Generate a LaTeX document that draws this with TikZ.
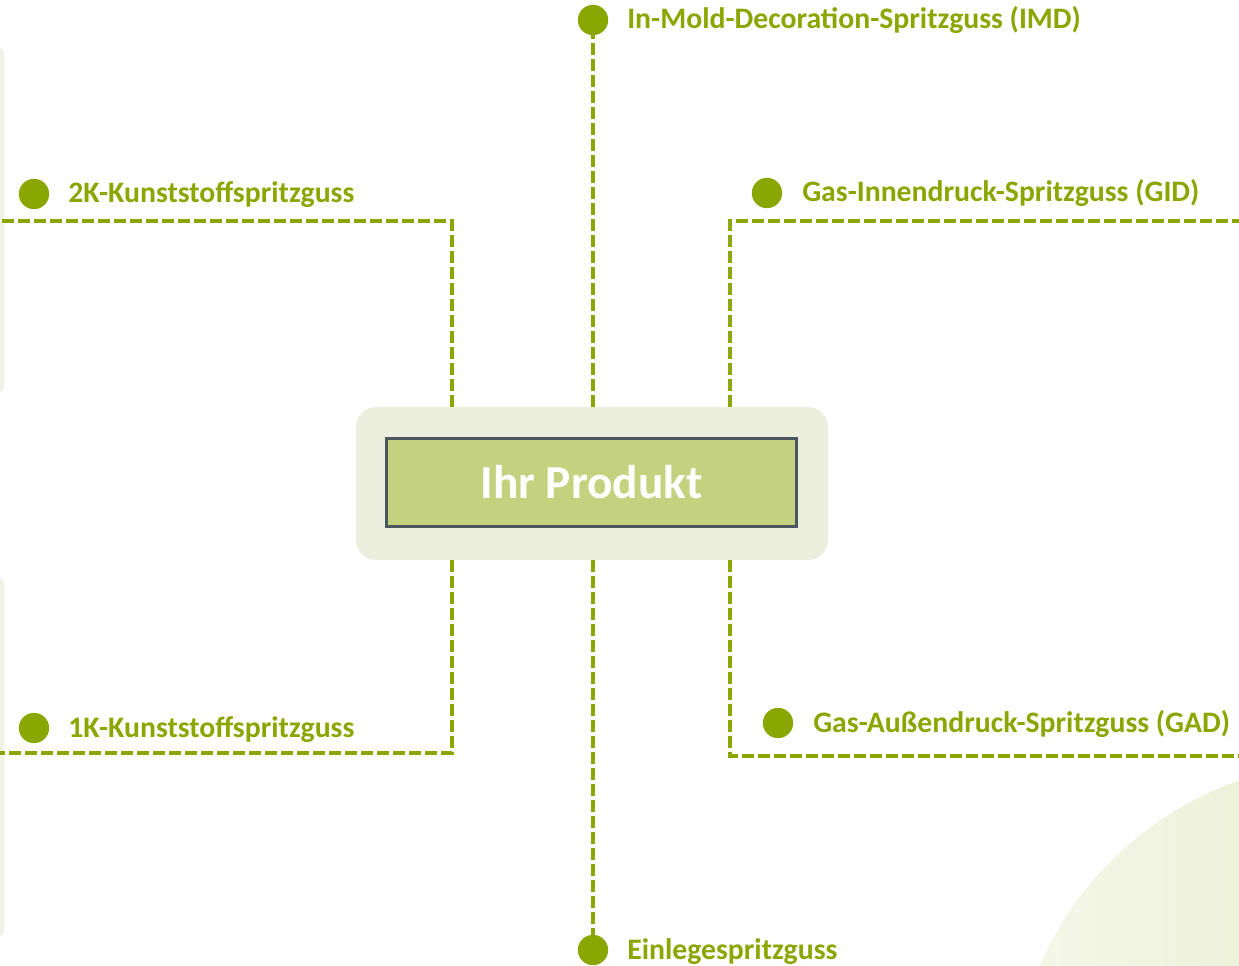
\documentclass[tikz,border=0pt]{standalone}
\usepackage{fontspec}
\setmainfont{Carlito}
\usetikzlibrary{positioning}
\definecolor{imgreen}{RGB}{138,166,0}
\definecolor{boxgreen}{RGB}{196,209,127}
\definecolor{boxedge}{RGB}{74,87,94}
\definecolor{framebg}{RGB}{236,239,222}
\definecolor{panelbg}{RGB}{241,243,231}
\definecolor{blobgreen}{RGB}{222,230,186}

\begin{document}
\begin{tikzpicture}[x=0.75pt,y=0.75pt,yscale=-1,xscale=1,
  dotmark/.style={circle,fill=imgreen,inner sep=0pt,minimum size=22.75pt},
  proclabel/.style={anchor=base west,inner sep=0pt,text=imgreen,font=\bfseries\fontsize{22.3}{24}\selectfont},
  linkline/.style={imgreen,line width=2.7pt,dash pattern=on 8.5pt off 3.5pt}
]
\clip (0,0) rectangle (1239,966);

% Background shapes
\fill[panelbg, rounded corners=3pt] (-10,48) rectangle (4,392);
\fill[panelbg, rounded corners=3pt] (-10,578) rectangle (4,936);
\shade[left color=blobgreen!30, right color=blobgreen] (1350,1100) circle (338);

% Center box
\node[fill=framebg, rounded corners=15pt, minimum width=354pt, minimum height=114.75pt] (frame) at (592,483.5) {};
\node[draw=boxedge, line width=2.25pt, fill=boxgreen, minimum width=307.5pt, minimum height=66pt,
      text=white, font=\bfseries\fontsize{35.5}{38}\selectfont] (produkt) at (591.5,482.5) {Ihr Produkt};

% Dots
\node[dotmark] (imddot) at (593,20) {};
\node[dotmark] (k2dot) at (34,194) {};
\node[dotmark] (giddot) at (767,193) {};
\node[dotmark] (k1dot) at (34,728) {};
\node[dotmark] (gaddot) at (778,723) {};
\node[dotmark] (einlegedot) at (593,950) {};

% Text Node
\node[proclabel] (imdtext) at (627,29) {In-Mold-Decoration-Spritzguss (IMD)};
\node[proclabel] (k2text) at (68,203) {2K-Kunststoffspritzguss};
\node[proclabel] (gidtext) at (802,202) {Gas-Innendruck-Spritzguss (GID)};
\node[proclabel] (k1text) at (68,737) {1K-Kunststoffspritzguss};
\node[proclabel] (gadtext) at (813,732) {Gas-Außendruck-Spritzguss (GAD)};
\node[proclabel] (einlegetext) at (627,959) {Einlegespritzguss};

% Corners of the connectors
\coordinate (k2corner) at (452,221);
\coordinate (k2end) at (-5,221);
\coordinate (gidcorner) at (730,221);
\coordinate (gidend) at (1245,221);
\coordinate (k1corner) at (452,753);
\coordinate (k1end) at (-5,753);
\coordinate (gadcorner) at (730,756);
\coordinate (gadend) at (1245,756);

% Connectors
\draw[linkline] (frame.north -| imddot) -- (imddot.south);
\draw[linkline] (frame.south -| einlegedot) -- (einlegedot.north);
\draw[linkline] (frame.north -| k2corner) -- (k2corner) -- (k2end);
\draw[linkline] (frame.north -| gidcorner) -- (gidcorner) -- (gidend);
\draw[linkline] (frame.south -| k1corner) -- (k1corner) -- (k1end);
\draw[linkline] (frame.south -| gadcorner) -- (gadcorner) -- (gadend);

\end{tikzpicture}
\end{document}
